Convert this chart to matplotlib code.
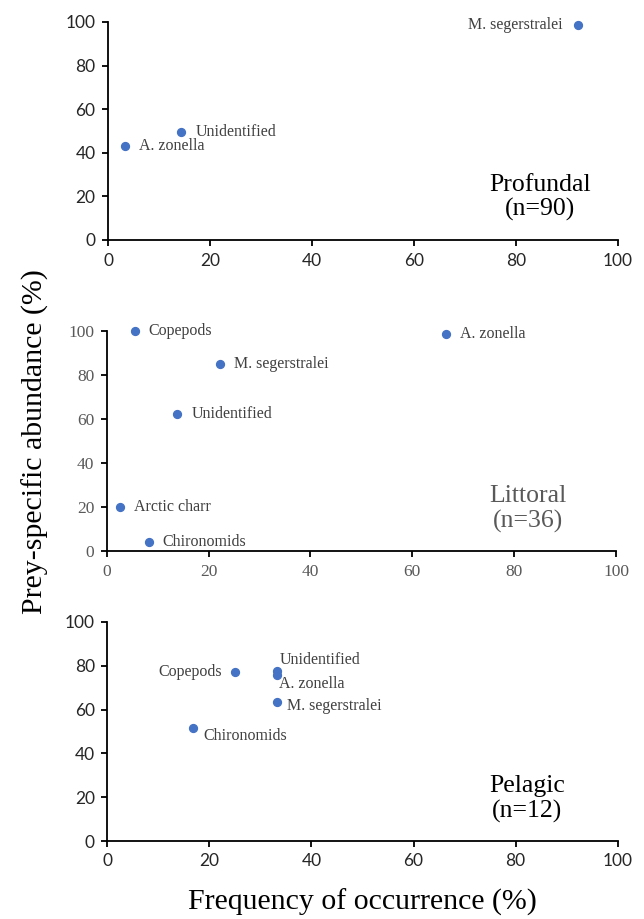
# Prey-specific abundance vs frequency of occurrence, three habitats stacked.
import matplotlib
matplotlib.use('Agg')
import matplotlib.pyplot as plt

# Profundal (n=90)
prof_names = ['A. zonella', 'Unidentified', 'M. segerstralei']
prof_freq = [3.3, 14.4, 92.2]
prof_abund = [43.1, 49.4, 98.5]

# Littoral (n=36)
litt_names = ['Copepods', 'M. segerstralei', 'Unidentified', 'Arctic charr', 'Chironomids', 'A. zonella']
litt_freq = [5.5, 22.2, 13.9, 2.7, 8.3, 66.6]
litt_abund = [100.0, 84.9, 62.1, 19.9, 4.3, 98.8]

# Pelagic (n=12)
pel_names = ['Copepods', 'Unidentified', 'A. zonella', 'M. segerstralei', 'Chironomids']
pel_freq = [25.0, 33.3, 33.3, 33.3, 16.7]
pel_abund = [77.1, 77.6, 75.6, 63.6, 51.6]

BLUE = '#4472C4'
SERIF = 'Liberation Serif'
SANS = 'Lato'

W, H = 644, 919
fig = plt.figure(figsize=(W / 100, H / 100), dpi=100)


def px_axes(left, top, right, bottom):
    return fig.add_axes([left / W, 1 - bottom / H, (right - left) / W, (bottom - top) / H])


panels = [
    # axes box in px, data, label offsets (pt), tick font/colour, panel label
    dict(box=(108, 22, 618, 240), names=prof_names, x=prof_freq, y=prof_abund,
         offs=[(10, 0), (10, 0), (-11, 0)],
         tfont=SANS, tcol='#262626', tsize=12.5, title='Profundal\n(n=90)', tx=84.7, ty=19.5, tc='black'),
    dict(box=(106.7, 331, 616, 551), names=litt_names, x=litt_freq, y=litt_abund,
         offs=[(10, 0)] * 6,
         tfont=SERIF, tcol='#595959', tsize=12.5, title='Littoral\n(n=36)', tx=82.7, ty=19.0, tc='#595959'),
    dict(box=(107.3, 622, 617.7, 841), names=pel_names, x=pel_freq, y=pel_abund,
         offs=[(-9, 0), (2, 8), (1, -6), (7, -3), (8, -6)],
         tfont=SANS, tcol='#262626', tsize=12.5, title='Pelagic\n(n=12)', tx=82.3, ty=19.3, tc='black'),
]

for p in panels:
    ax = px_axes(*p['box'])
    ax.scatter(p['x'], p['y'], s=32, color=BLUE, zorder=3, clip_on=False)
    for name, xv, yv, (dx, dy) in zip(p['names'], p['x'], p['y'], p['offs']):
        ax.annotate(name, (xv, yv), xytext=(dx, dy), textcoords='offset points',
                    ha='right' if dx < 0 else 'left', va='center', fontsize=11.5,
                    family=SERIF, color='#404040')
    ax.text(p['tx'], p['ty'], p['title'], ha='center', va='center', fontsize=18.5,
            family=SERIF, color=p['tc'], linespacing=1.15)
    ax.set_xlim(0, 100)
    ax.set_ylim(0, 100)
    ax.set_xticks(range(0, 101, 20))
    ax.set_yticks(range(0, 101, 20))
    for s in ['top', 'right']:
        ax.spines[s].set_visible(False)
    for s in ['left', 'bottom']:
        ax.spines[s].set_linewidth(1.3)
        ax.spines[s].set_color('black')
    ax.tick_params(direction='out', length=4, width=1.3, color='black',
                   labelsize=p['tsize'], labelcolor=p['tcol'], pad=5)
    for lab in ax.get_xticklabels() + ax.get_yticklabels():
        lab.set_family(p['tfont'])

fig.text(35 / W, 1 - 442 / H, 'Prey-specific abundance (%)', rotation=90,
         ha='center', va='center', fontsize=21.5, family=SERIF)
fig.text(362 / W, 1 - 902 / H, 'Frequency of occurrence (%)',
         ha='center', va='center', fontsize=21.5, family=SERIF)

fig.savefig('out.png', dpi=100)
